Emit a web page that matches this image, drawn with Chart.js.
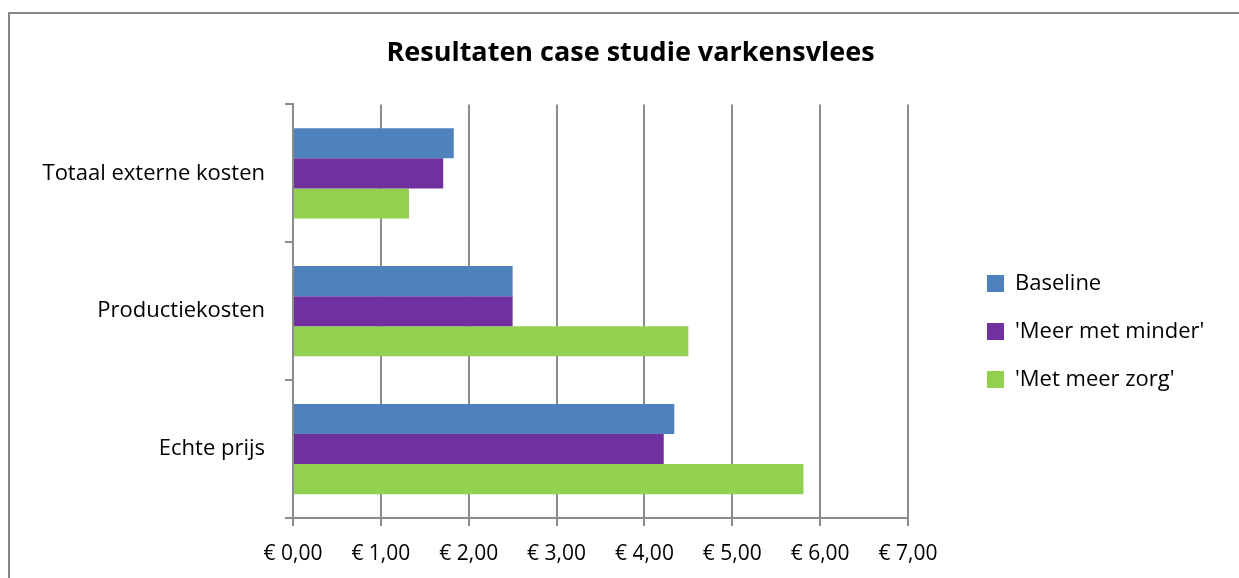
<!DOCTYPE html>
<html>
<head>
<meta charset="utf-8">
<script src="https://cdn.jsdelivr.net/npm/chart.js@4"></script>
<style>
  html, body { margin: 0; padding: 0; background: #fff; }
  #wrap { position: relative; width: 1239px; height: 578px; overflow: hidden; }
  #frame { position: absolute; left: 8px; top: 12px; width: 1300px; height: 700px;
           border: 2px solid #868686; pointer-events: none; }
</style>
</head>
<body>
<div id="wrap">
  <canvas id="myChart" width="1239" height="578"></canvas>
  <div id="frame"></div>
</div>
<script>
// values (euro)
const categories = ["Totaal externe kosten", "Productiekosten", "Echte prijs"];
const baseline = [1.83, 2.50, 4.34];
const meerMetMinder = [1.71, 2.50, 4.22];
const metMeerZorg = [1.32, 4.50, 5.81];
const xTickLabels = ["€ 0,00", "€ 1,00", "€ 2,00", "€ 3,00", "€ 4,00", "€ 5,00", "€ 6,00", "€ 7,00"];

const FONT = "'Open Sans'";
const gridColor = "#8c8c8c";

// fixed legend column on the right, then nudge it into place
const legendPlace = {
    id: 'legendPlace',
    beforeLayout(chart) {
        const lg = chart.legend;
        if (lg && !lg._fixed) {
            const fit = lg.fit;
            lg.fit = function () { fit.call(this); this.width = 331; };
            lg._fixed = true;
        }
    },
    afterLayout(chart) {
        const lg = chart.legend;
        if (!lg) return;
        lg.left = 961; lg.right = lg.left + lg.width;
        lg.top += 36; lg.bottom += 36;
    }
};

const gr_config = {
    type: 'bar',
    data: {
        labels: categories,
        datasets: [
            { label: 'Baseline', data: baseline, backgroundColor: '#4F81BD' },
            { label: "'Meer met minder'", data: meerMetMinder, backgroundColor: '#7030A0' },
            { label: "'Met meer zorg'", data: metMeerZorg, backgroundColor: '#92D050' }
        ]
    },
    options: {
        indexAxis: 'y',
        responsive: false,
        animation: false,
        categoryPercentage: 0.655,
        barPercentage: 1.0,
        layout: { padding: { left: 22, top: 13, right: 0, bottom: 0 } },
        scales: {
            x: {
                min: 0, max: 7,
                ticks: {
                    stepSize: 1, color: '#000', padding: 15,
                    font: { family: FONT, size: 21 },
                    callback: (v, i) => xTickLabels[i]
                },
                grid: { color: gridColor, lineWidth: 2, tickLength: 8 },
                border: { color: gridColor, width: 2 },
                afterFit(s) { s.height = 60; }
            },
            y: {
                ticks: { color: '#000', padding: 20, font: { family: FONT, size: 22 } },
                grid: { offset: true, drawOnChartArea: false, color: gridColor, lineWidth: 2, tickLength: 8 },
                border: { color: gridColor, width: 2 },
                afterFit(s) { s.width = 271; }
            }
        },
        plugins: {
            title: {
                display: true,
                text: 'Resultaten case studie varkensvlees',
                color: '#000',
                font: { family: FONT, size: 27, weight: 'bold' },
                padding: { top: 24, bottom: 35 }
            },
            legend: {
                position: 'right',
                align: 'center',
                labels: {
                    color: '#000', boxWidth: 17, boxHeight: 17, padding: 26,
                    font: { family: FONT, size: 22 }
                }
            },
            tooltip: { enabled: false }
        }
    },
    plugins: [legendPlace]
};

var ctx = document.getElementById('myChart');
var myChart = new Chart(ctx, gr_config);
</script>
</body>
</html>
